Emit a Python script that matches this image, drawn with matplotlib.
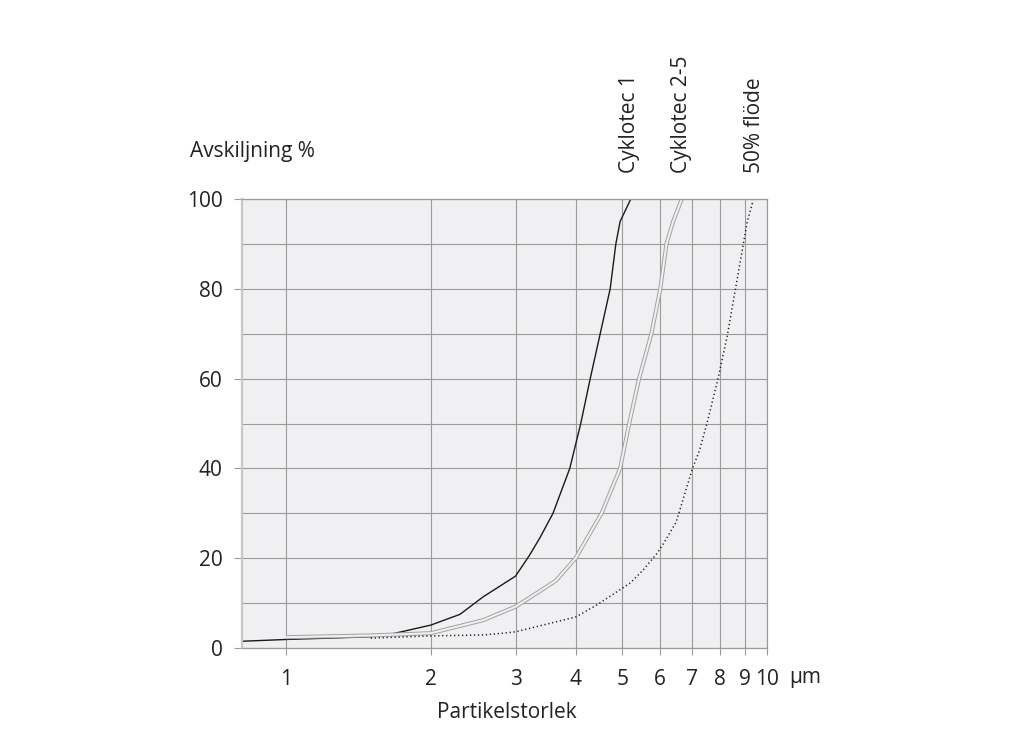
import matplotlib
matplotlib.use("Agg")
import matplotlib.pyplot as plt
from matplotlib.ticker import FixedLocator, NullLocator, NullFormatter

plt.rcParams['font.family'] = ['Open Sans', 'DejaVu Sans']

# Data
c1_x = [0.81, 1.0, 1.5, 1.64, 2.0, 2.3, 2.57, 3.0, 3.21, 3.37, 3.59, 3.89, 4.10, 4.29, 4.50, 4.72, 4.85, 4.95, 5.21]
c1_y = [1.5, 1.9, 2.5, 3.0, 5.1, 7.5, 11.4, 16.0, 20.7, 24.5, 30, 40, 50, 60, 70, 80, 90, 95, 100]

c25_x = [1.0, 1.5, 2.0, 2.57, 3.0, 3.21, 3.64, 4.0, 4.53, 4.95, 5.17, 5.42, 5.75, 6.0, 6.18, 6.38, 6.65]
c25_y = [2.4, 2.8, 3.3, 6.2, 9.2, 11.2, 15, 20, 30, 40, 50, 60, 70, 80, 90, 95, 100]

f50_x = [1.5, 2.0, 2.57, 2.83, 3.0, 4.0, 4.43, 5.2, 5.53, 5.9, 6.12, 6.47, 6.6, 7.0, 7.24, 7.53, 7.91, 8.26, 8.6, 8.93, 9.1, 9.3, 9.35]
f50_y = [2.2, 2.7, 2.9, 3.3, 3.6, 6.9, 9.6, 14.5, 17.4, 21, 23.6, 28, 31, 40, 44, 50.7, 60, 69.3, 80, 90, 95, 98.6, 99.6]

x_ticks = [1, 2, 3, 4, 5, 6, 7, 8, 9, 10]
x_labels = ['1', '2', '3', '4', '5', '6', '7', '8', '9', '10']
y_major = [0, 20, 40, 60, 80, 100]
y_minor = [10, 30, 50, 70, 90]
series_labels = ['Cyklotec 1', 'Cyklotec 2-5', '50% flöde']

W, H = 1011, 750
FS = 15
TXT = '#222222'
fig = plt.figure(figsize=(W / 100, H / 100), dpi=100)
ax = fig.add_axes([242 / W, 1 - 648 / H, (767 - 242) / W, (648 - 199) / H])
ax.set_facecolor('#f0f0f2')
ax.set_xscale('log')
ax.set_xlim(0.81, 10)
ax.set_ylim(0, 100)

grid_c = '#9a9a9a'
ax.xaxis.set_major_locator(FixedLocator(x_ticks))
ax.xaxis.set_minor_locator(NullLocator())
ax.xaxis.set_minor_formatter(NullFormatter())
ax.set_xticklabels(x_labels)
ax.yaxis.set_major_locator(FixedLocator(y_major))
ax.yaxis.set_minor_locator(FixedLocator(y_minor))
ax.grid(True, which='both', color=grid_c, lw=0.8)
ax.set_axisbelow(True)

ax.tick_params(axis='x', which='major', direction='out', length=5, width=0.8,
               color=grid_c, pad=10, labelsize=FS, labelcolor=TXT)
ax.tick_params(axis='y', which='major', direction='out', length=6, width=0.8,
               color=grid_c, pad=8, labelsize=FS, labelcolor=TXT)
ax.tick_params(axis='y', which='minor', length=0)

for s in ['top', 'right', 'bottom']:
    ax.spines[s].set_color(grid_c)
    ax.spines[s].set_linewidth(0.9)
ax.spines['left'].set_color('#c8c8c8')
ax.spines['left'].set_linewidth(1.6)

# Curves
ax.plot(c1_x, c1_y, color='#1a1a1a', lw=1.0, solid_capstyle='butt')
ax.plot(c25_x, c25_y, color='#a0a0a0', lw=2.9, solid_capstyle='butt')
ax.plot(c25_x, c25_y, color='#f0f0f2', lw=1.5, solid_capstyle='butt')
ax.plot(f50_x, f50_y, color='#1a1a1a', lw=1.1, linestyle=(0, (0.8, 1.8)))

# Texts
fig.text(190 / W, 1 - 152 / H, 'Avskiljning %', fontsize=FS, color=TXT,
         ha='left', va='center')
fig.text(507 / W, 1 - 712 / H, 'Partikelstorlek', fontsize=FS, color=TXT,
         ha='center', va='center')
fig.text(789 / W, 1 - 678 / H, 'µm', fontsize=FS, color=TXT,
         ha='left', va='center')

label_x = [630, 681, 755]
for lx, lab in zip(label_x, series_labels):
    fig.text(lx / W, 1 - 173 / H, lab, fontsize=FS, color=TXT,
             rotation=90, ha='center', va='bottom')

fig.savefig('out.png', dpi=100, facecolor='white')
